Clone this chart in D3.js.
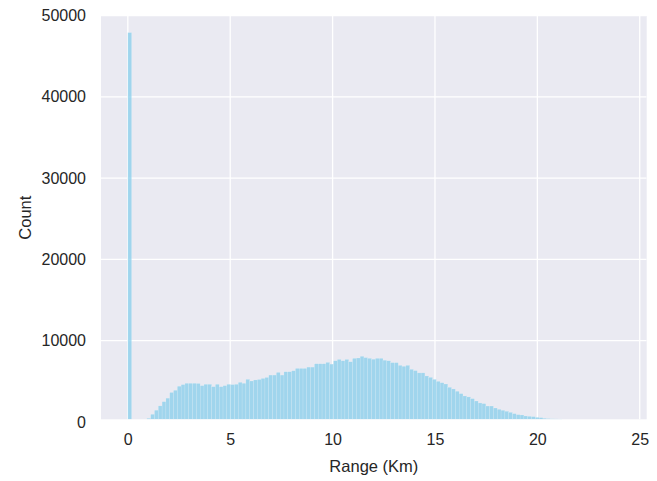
<!DOCTYPE html>
<html>
<head>
<meta charset="utf-8">
<script src="https://cdn.jsdelivr.net/npm/d3@7"></script>
<style>
  body { margin: 0; background: #fff; }
  svg text { font-family: "Liberation Sans", Arial, sans-serif; fill: #262626; }
</style>
</head>
<body>
<div id="chart"></div>
<script>
// histogram of range, bins of equal width starting at 0 km
var binStart = 0;
var binWidth = 0.186;
var counts = [
  47900, 0, 0, 0, 0, 450, 950, 1450, 1980, 2500,
  2930, 3630, 3900, 4400, 4600, 4760, 4760, 4760, 4740, 4470,
  4640, 4640, 4340, 4640, 4340, 4470, 4640, 4600, 4640, 4880,
  4760, 5250, 5040, 5170, 5230, 5360, 5480, 5770, 5770, 6100,
  5770, 6180, 6180, 6300, 6590, 6590, 6590, 6750, 6750, 7160,
  7160, 7160, 7330, 7120, 7530, 7700, 7530, 7700, 7410, 7830,
  7870, 8080, 7920, 7830, 7720, 7830, 7830, 7600, 7530, 7300,
  7300, 6970, 6850, 6970, 6480, 6320, 6040, 6040, 5660, 5490,
  5250, 5000, 4830, 4670, 4270, 4060, 3780, 3490, 3200, 3080,
  2870, 2580, 2340, 2260, 1960, 1960, 1720, 1560, 1440, 1320,
  1190, 1025, 902, 861, 738, 697, 656, 574, 533, 451,
  410, 390, 380, 369, 300, 250, 210, 180, 150, 120,
  100, 80, 60, 50, 40, 30, 20, 15, 10, 5
];
var xTicks = [0, 5, 10, 15, 20, 25];
var yTicks = [0, 10000, 20000, 30000, 40000, 50000];

var W = 657, H = 481;
var svg = d3.select("#chart").append("svg").attr("width", W).attr("height", H);

var x = d3.scaleLinear().domain([-1.31, 25.34]).range([101, 646.7]);
var y = d3.scaleLinear().domain([330, 49940]).range([419.3, 16]);

var plot = svg.append("g");

plot.append("rect")
    .attr("x", x.range()[0])
    .attr("y", y.range()[1])
    .attr("width", x.range()[1] - x.range()[0])
    .attr("height", y.range()[0] - y.range()[1])
    .attr("fill", "#eaeaf2");

svg.append("clipPath").attr("id", "clip")
  .append("rect")
    .attr("x", x.range()[0])
    .attr("y", y.range()[1])
    .attr("width", x.range()[1] - x.range()[0])
    .attr("height", y.range()[0] - y.range()[1]);

// grid
plot.append("g")
  .selectAll("line")
  .data(xTicks)
  .enter().append("line")
    .attr("x1", function (d) { return x(d); })
    .attr("x2", function (d) { return x(d); })
    .attr("y1", y.range()[1])
    .attr("y2", y.range()[0])
    .attr("stroke", "#fff")
    .attr("stroke-width", 1.3);

plot.append("g")
  .attr("clip-path", "url(#clip)")
  .selectAll("line")
  .data(yTicks)
  .enter().append("line")
    .attr("x1", x.range()[0])
    .attr("x2", x.range()[1])
    .attr("y1", function (d) { return y(d); })
    .attr("y2", function (d) { return y(d); })
    .attr("stroke", "#fff")
    .attr("stroke-width", 1.3);

// bars
plot.append("g")
  .attr("clip-path", "url(#clip)")
  .selectAll("rect")
  .data(counts)
  .enter().append("rect")
    .attr("x", function (d, i) { return x(binStart + i * binWidth); })
    .attr("width", function (d, i) { return x(binStart + (i + 1) * binWidth) - x(binStart + i * binWidth); })
    .attr("y", function (d) { return y(Math.max(d, 0)); })
    .attr("height", function (d) { return Math.max(0, y.range()[0] - y(d)); })
    .attr("fill", "#87ceeb")
    .attr("fill-opacity", 0.75)
    .attr("stroke", "#ffffff")
    .attr("stroke-opacity", 0.35)
    .attr("stroke-width", 0.4);

// axes (no domain lines or tick marks, seaborn darkgrid look)
var xAxis = svg.append("g")
    .attr("transform", "translate(0," + y.range()[0] + ")")
    .call(d3.axisBottom(x).tickValues(xTicks).tickSize(0).tickPadding(14).tickFormat(d3.format("d")));
xAxis.select(".domain").remove();
xAxis.selectAll("text").attr("font-size", 16).attr("fill", "#262626");

var yAxis = svg.append("g")
    .attr("transform", "translate(" + x.range()[0] + ",0)")
    .call(d3.axisLeft(y).tickValues(yTicks).tickSize(0).tickPadding(15).tickFormat(d3.format("d")));
yAxis.select(".domain").remove();
yAxis.selectAll("text").attr("font-size", 16).attr("fill", "#262626");

svg.append("text")
    .attr("x", (x.range()[0] + x.range()[1]) / 2)
    .attr("y", 472)
    .attr("text-anchor", "middle")
    .attr("font-size", 16.5)
    .text("Range (Km)");

svg.append("text")
    .attr("transform", "translate(31," + ((y.range()[0] + y.range()[1]) / 2) + ") rotate(-90)")
    .attr("text-anchor", "middle")
    .attr("font-size", 16.5)
    .text("Count");
</script>
</body>
</html>
